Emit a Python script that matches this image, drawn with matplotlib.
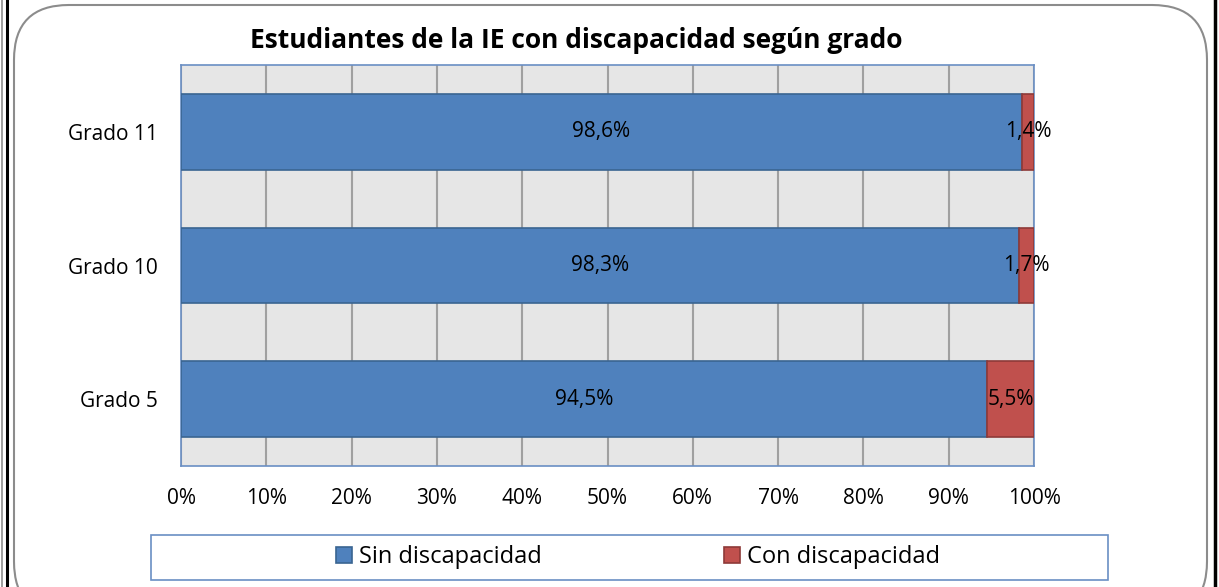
import matplotlib.pyplot as plt
from matplotlib.patches import FancyBboxPatch, Rectangle
from matplotlib.lines import Line2D
from matplotlib.ticker import PercentFormatter

# datos
grados = ['Grado 5', 'Grado 10', 'Grado 11']
sin_disc = [94.5, 98.3, 98.6]
con_disc = [5.5, 1.7, 1.4]
sin_lbl = ['94,5%', '98,3%', '98,6%']
con_lbl = ['5,5%', '1,7%', '1,4%']

plt.rcParams['font.family'] = ['Open Sans', 'DejaVu Sans']

W, H = 1219, 587
fig = plt.figure(figsize=(W / 100, H / 100), dpi=100)

# marco redondeado y lineas de borde
caja = FancyBboxPatch((14 / W, -0.05), 1193 / W, (H - 5) / H + 0.05,
                      boxstyle='round,pad=0,rounding_size=0.045',
                      transform=fig.transFigure, facecolor='white',
                      edgecolor='#8c8c8c', linewidth=1.5, mutation_aspect=W / H,
                      zorder=-5)
fig.patches.append(caja)
for x, c, lw in [(2, '#8c8c8c', 1.2), (7, 'black', 2.2), (1215, 'black', 2.5)]:
    fig.add_artist(Line2D([x / W, x / W], [0, 1], transform=fig.transFigure,
                          color=c, linewidth=lw))

ax = fig.add_axes([181 / W, 1 - 466 / H, (1034 - 181) / W, (466 - 65) / H])
ax.set_facecolor('#e6e6e6')

y = range(len(grados))
ax.barh(y, sin_disc, height=0.567, color='#4f81bd', edgecolor='#3a6591',
        linewidth=1.2, label='Sin discapacidad', zorder=3)
ax.barh(y, con_disc, left=sin_disc, height=0.567, color='#c0504d',
        edgecolor='#8e3a38', linewidth=1.2, label='Con discapacidad', zorder=3)

for i in y:
    ax.text(sin_disc[i] / 2, i, sin_lbl[i], ha='center', va='center',
            fontsize=15, color='black', zorder=4)
    ax.text(sin_disc[i] + con_disc[i] / 2, i, con_lbl[i], ha='center',
            va='center', fontsize=15, color='black', zorder=4)

ax.set_xlim(0, 100)
ax.set_ylim(-0.5, 2.5)
ax.set_xticks(range(0, 101, 10))
ax.xaxis.set_major_formatter(PercentFormatter(decimals=0))
ax.set_yticks(list(y))
ax.set_yticklabels(grados)
ax.tick_params(axis='both', length=0, labelsize=15)
ax.tick_params(axis='x', pad=16)
ax.tick_params(axis='y', pad=16.5)
ax.grid(axis='x', color='#a0a0a0', linewidth=1.5, zorder=1)
for s in ax.spines.values():
    s.set_color('#6a8fc4')
    s.set_linewidth(1.2)

fig.text(576 / W, 1 - 40 / H, 'Estudiantes de la IE con discapacidad según grado',
         ha='center', va='center', fontsize=19, fontweight='bold')

# caja de la leyenda
fig.patches.append(Rectangle((151 / W, 1 - 580 / H), (1108 - 151) / W, 45 / H,
                             transform=fig.transFigure, facecolor='white',
                             edgecolor='#6a8fc4', linewidth=1.2))
leg = fig.legend(loc='center', bbox_to_anchor=(638 / W, 1 - 557 / H),
                 ncol=2, fontsize=17, frameon=False,
                 handlelength=0.68, handleheight=0.68, handletextpad=0.3,
                 columnspacing=7.7, borderaxespad=0)

fig.savefig('out.png', dpi=100)
